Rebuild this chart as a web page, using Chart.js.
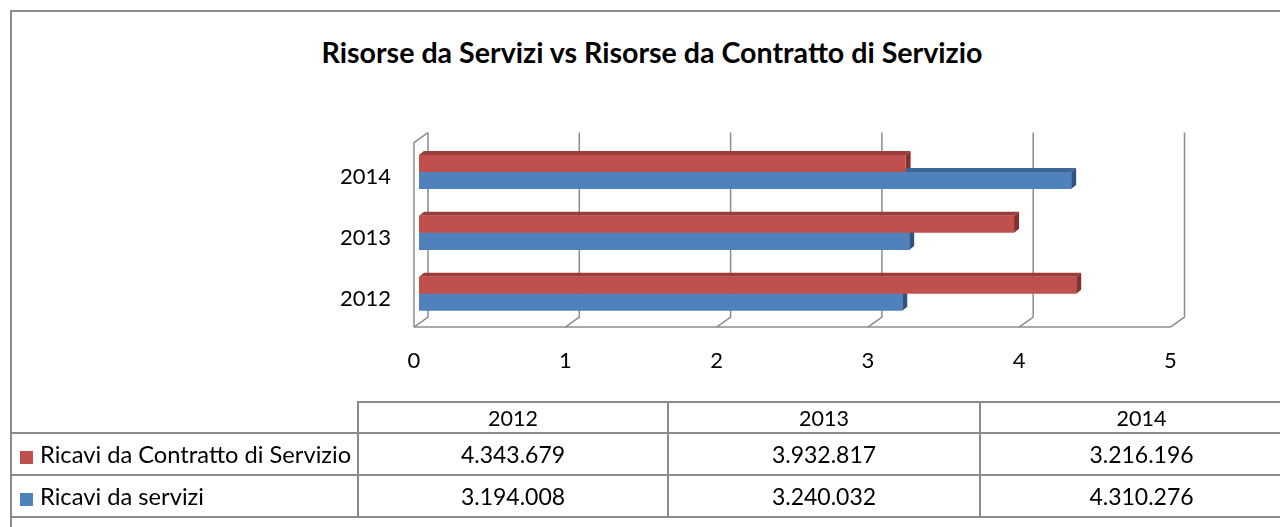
<!DOCTYPE html>
<html lang="it">
<head>
<meta charset="utf-8">
<title>Risorse da Servizi vs Risorse da Contratto di Servizio</title>
<script src="https://cdn.jsdelivr.net/npm/chart.js@4.4.1/dist/chart.umd.min.js"></script>
<style>
    html, body {
        margin: 0;
        padding: 0;
        background: #ffffff;
        width: 1280px;
        height: 527px;
        overflow: hidden;
        font-family: Lato, "Open Sans", sans-serif;
        color: #000000;
    }
    #moldura {
        position: absolute;
        left: 10px;
        top: 10px;
        width: 1400px;
        height: 700px;
        border-left: 2px solid #8b8b8b;
        border-top: 2px solid #8b8b8b;
    }
    #titulo {
        position: absolute;
        left: 0;
        top: 35px;
        width: 1304px;
        text-align: center;
        font-weight: bold;
        font-size: 28.6px;
    }
    #grafico {
        position: absolute;
        left: 0;
        top: 0;
    }
    #tabela {
        position: absolute;
        left: 10px;
        top: 401px;
        border-collapse: collapse;
        table-layout: fixed;
        width: 1292px;
        font-size: 23px;
    }
    #tabela td {
        border: 2px solid #8b8b8b;
        text-align: center;
        padding: 0;
        white-space: nowrap;
        overflow: hidden;
    }
    #tabela td.vazio {
        border-top: none;
        border-left: none;
    }
    #tabela tr.cab td {
        height: 29px;
        font-size: 21.5px;
    }
    #tabela tr.linha td {
        height: 40px;
    }
    #tabela td.serie {
        text-align: left;
        font-size: 23.7px;
    }
    .marca {
        display: inline-block;
        width: 13px;
        height: 13px;
        margin: 0 7px 0 8px;
        vertical-align: -1px;
    }
</style>
</head>
<body>
<div id="moldura"></div>
<div id="titulo">Risorse da Servizi vs Risorse da Contratto di Servizio</div>
<canvas id="grafico" width="1280" height="527"></canvas>
<table id="tabela">
    <colgroup>
        <col style="width:347px">
        <col style="width:310px">
        <col style="width:312px">
        <col style="width:323px">
    </colgroup>
    <tbody id="corpoTabela"></tbody>
</table>

<script>
// dados do grafico
const anos = ["2012", "2013", "2014"];
const ricaviContratto = [4343679, 3932817, 3216196];
const ricaviServizi = [3194008, 3240032, 4310276];
const rotulosEixo = ["0", "1", "2", "3", "4", "5"];

const nomeContratto = "Ricavi da Contratto di Servizio";
const nomeServizi = "Ricavi da servizi";

const corVermelho = "#C0504D";
const corVermelhoTopo = "#9A3C3A";
const corVermelhoLado = "#86302E";
const corAzul = "#4F81BD";
const corAzulTopo = "#3D6696";
const corAzulLado = "#2F5282";

function formatarNumero(valor) {
    return String(valor).replace(/\B(?=(\d{3})+(?!\d))/g, ".");
}

// tabela de dados embaixo do grafico
function montarTabela() {
    const corpo = document.getElementById("corpoTabela");
    let html = '<tr class="cab"><td class="vazio"></td>';
    anos.forEach(ano => {
        html += `<td>${ano}</td>`;
    });
    html += "</tr>";

    const linhas = [
        { nome: nomeContratto, cor: corVermelho, valores: ricaviContratto },
        { nome: nomeServizi, cor: corAzul, valores: ricaviServizi }
    ];
    linhas.forEach(linha => {
        html += `<tr class="linha"><td class="serie"><span class="marca" style="background:${linha.cor}"></span>${linha.nome}</td>`;
        linha.valores.forEach(v => {
            html += `<td>${formatarNumero(v)}</td>`;
        });
        html += "</tr>";
    });
    corpo.innerHTML = html;
}

// paredes e faces 3D das barras (estilo Excel)
const efeito3d = {
    id: "efeito3d",
    beforeDatasetsDraw(chart) {
        const ctx = chart.ctx;
        const eixoX = chart.scales.x;
        const area = chart.chartArea;
        const topo = area.top - 9;
        const chaoTras = area.bottom - 7;
        const chaoFrente = area.bottom + 3;
        const x0 = eixoX.getPixelForValue(eixoX.min);
        const xFim = eixoX.getPixelForValue(eixoX.max);

        ctx.save();
        ctx.strokeStyle = "#8c8c8c";
        ctx.lineWidth = 1.5;

        // parede lateral esquerda
        ctx.beginPath();
        ctx.moveTo(x0 + 9, topo);
        ctx.lineTo(x0 - 5, topo + 10);
        ctx.lineTo(x0 - 5, chaoFrente);
        ctx.stroke();

        // linhas de grade
        eixoX.ticks.forEach(tick => {
            const px = eixoX.getPixelForValue(tick.value);
            ctx.beginPath();
            ctx.moveTo(px + 9, topo);
            ctx.lineTo(px + 9, chaoTras);
            ctx.lineTo(px - 5, chaoFrente);
            ctx.stroke();
        });

        // chao
        ctx.beginPath();
        ctx.moveTo(x0 - 5, chaoFrente);
        ctx.lineTo(xFim - 5, chaoFrente);
        ctx.stroke();

        // topo e lado das barras
        chart.data.datasets.forEach((ds, i) => {
            const meta = chart.getDatasetMeta(i);
            meta.data.forEach(barra => {
                const p = barra.getProps(["x", "y", "base", "height"], true);
                const cima = p.y - p.height / 2;
                const baixo = p.y + p.height / 2;

                ctx.fillStyle = ds.corTopo;
                ctx.beginPath();
                ctx.moveTo(p.base, cima);
                ctx.lineTo(p.base + 5, cima - 4);
                ctx.lineTo(p.x + 5, cima - 4);
                ctx.lineTo(p.x, cima);
                ctx.closePath();
                ctx.fill();

                ctx.fillStyle = ds.corLado;
                ctx.beginPath();
                ctx.moveTo(p.x, cima);
                ctx.lineTo(p.x + 5, cima - 4);
                ctx.lineTo(p.x + 5, baixo - 4);
                ctx.lineTo(p.x, baixo);
                ctx.closePath();
                ctx.fill();
            });
        });
        ctx.restore();
    }
};

window.onload = () => {
    montarTabela();

    const grafico = document.getElementById("grafico");

    new Chart(grafico, {
        type: "bar",
        data: {
            labels: anos,
            datasets: [
                {
                    label: nomeContratto,
                    data: ricaviContratto,
                    backgroundColor: corVermelho,
                    corTopo: corVermelhoTopo,
                    corLado: corVermelhoLado,
                    borderWidth: 0
                },
                {
                    label: nomeServizi,
                    data: ricaviServizi,
                    backgroundColor: corAzul,
                    corTopo: corAzulTopo,
                    corLado: corAzulLado,
                    borderWidth: 0
                }
            ]
        },
        plugins: [efeito3d],
        options: {
            indexAxis: "y",
            responsive: false,
            animation: false,
            categoryPercentage: 0.56,
            barPercentage: 1,
            layout: {
                padding: {
                    left: 0,
                    top: 141.6,
                    right: 104.5,
                    bottom: 142.9
                }
            },
            plugins: {
                legend: { display: false },
                tooltip: { enabled: false },
                title: { display: false }
            },
            scales: {
                x: {
                    min: 0,
                    max: 5000000,
                    grid: { display: false, drawTicks: false },
                    border: { display: false },
                    ticks: {
                        stepSize: 1000000,
                        padding: 24,
                        labelOffset: -5,
                        color: "#000000",
                        font: { family: "Lato", size: 22 },
                        callback: (valor, indice) => rotulosEixo[indice]
                    },
                    afterFit: (escala) => {
                        escala.height = 60;
                    }
                },
                y: {
                    reverse: true,
                    grid: { display: false, drawTicks: false },
                    border: { display: false },
                    ticks: {
                        padding: 28,
                        labelOffset: 5,
                        color: "#000000",
                        font: { family: "Lato", size: 22 }
                    },
                    afterFit: (escala) => {
                        escala.width = 419;
                    }
                }
            }
        }
    });
};
</script>
</body>
</html>
